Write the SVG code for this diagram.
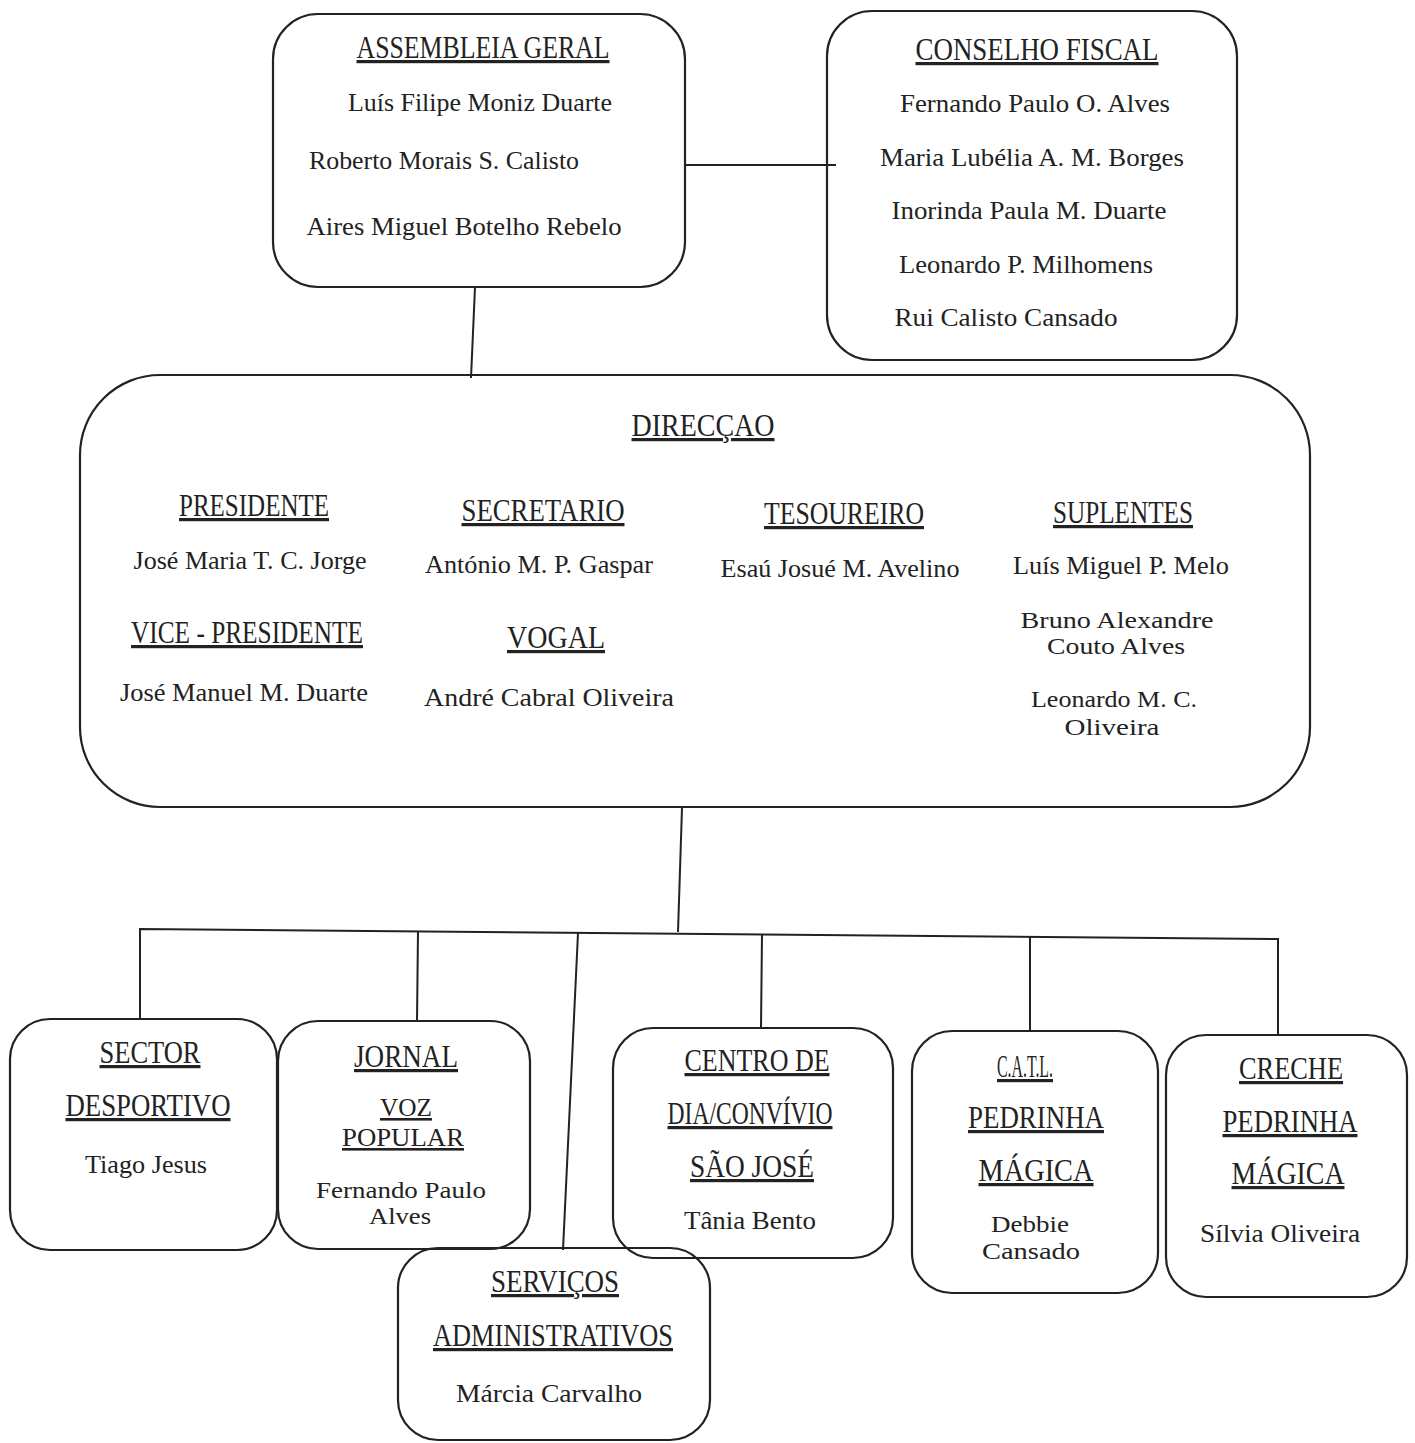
<svg xmlns="http://www.w3.org/2000/svg" width="1415" height="1443" viewBox="0 0 1415 1443">
<style>
.box{fill:none;stroke:#222;stroke-width:2.2}
.ln{fill:none;stroke:#222;stroke-width:2}
.h{font-family:"Liberation Serif","DejaVu Serif",serif;font-size:32px;fill:#222;text-anchor:middle;text-decoration:underline}
.h2{font-size:26px}
.n{font-family:"Liberation Serif","DejaVu Serif",serif;font-size:26px;fill:#222;text-anchor:middle}
.n2{font-size:24px}
</style>
<rect width="1415" height="1443" fill="#fff"/>
<g id="connectors">
<line class="ln" x1="685" y1="165" x2="836" y2="165"/>
<line class="ln" x1="475" y1="287" x2="471" y2="378"/>
<line class="ln" x1="682" y1="808" x2="678" y2="932"/>
<polyline class="ln" points="140,1020 140,929 1278,939 1278,1035"/>
<line class="ln" x1="418" y1="931" x2="417" y2="1022"/>
<line class="ln" x1="578" y1="933" x2="563" y2="1250"/>
<line class="ln" x1="762" y1="934" x2="761" y2="1028"/>
<line class="ln" x1="1030" y1="936" x2="1030" y2="1032"/>
</g>
<g id="assembleia">
<rect class="box" x="273" y="14" width="412" height="273" rx="45"/>
<text class="h" x="483" y="58" textLength="253" lengthAdjust="spacingAndGlyphs">ASSEMBLEIA GERAL</text>
<text class="n" x="480" y="111" textLength="264" lengthAdjust="spacingAndGlyphs">Luís Filipe Moniz Duarte</text>
<text class="n" x="444" y="169" textLength="270" lengthAdjust="spacingAndGlyphs">Roberto Morais S. Calisto</text>
<text class="n" x="464" y="235" textLength="315" lengthAdjust="spacingAndGlyphs">Aires Miguel Botelho Rebelo</text>
</g>
<g id="conselho">
<rect class="box" x="827" y="11" width="410" height="349" rx="45"/>
<text class="h" x="1037" y="60" textLength="243" lengthAdjust="spacingAndGlyphs">CONSELHO FISCAL</text>
<text class="n" x="1035" y="112" textLength="270" lengthAdjust="spacingAndGlyphs">Fernando Paulo O. Alves</text>
<text class="n" x="1032" y="166" textLength="304" lengthAdjust="spacingAndGlyphs">Maria Lubélia A. M. Borges</text>
<text class="n" x="1029" y="219" textLength="275" lengthAdjust="spacingAndGlyphs">Inorinda Paula M. Duarte</text>
<text class="n" x="1026" y="273" textLength="254" lengthAdjust="spacingAndGlyphs">Leonardo P. Milhomens</text>
<text class="n" x="1006" y="326" textLength="223" lengthAdjust="spacingAndGlyphs">Rui Calisto Cansado</text>
</g>
<g id="direccao">
<rect class="box" x="80" y="375" width="1230" height="432" rx="80"/>
<text class="h" x="703" y="436" textLength="143" lengthAdjust="spacingAndGlyphs">DIRECÇAO</text>
<text class="h" x="254" y="516" textLength="150" lengthAdjust="spacingAndGlyphs">PRESIDENTE</text>
<text class="n" x="250" y="569" textLength="233" lengthAdjust="spacingAndGlyphs">José Maria T. C. Jorge</text>
<text class="h" x="247" y="643" textLength="232" lengthAdjust="spacingAndGlyphs">VICE - PRESIDENTE</text>
<text class="n" x="244" y="701" textLength="248" lengthAdjust="spacingAndGlyphs">José Manuel M. Duarte</text>
<text class="h" x="543" y="521" textLength="163" lengthAdjust="spacingAndGlyphs">SECRETARIO</text>
<text class="n" x="539" y="573" textLength="228" lengthAdjust="spacingAndGlyphs">António M. P. Gaspar</text>
<text class="h" x="556" y="648" textLength="98" lengthAdjust="spacingAndGlyphs">VOGAL</text>
<text class="n" x="549" y="706" textLength="250" lengthAdjust="spacingAndGlyphs">André Cabral Oliveira</text>
<text class="h" x="844" y="524" textLength="160" lengthAdjust="spacingAndGlyphs">TESOUREIRO</text>
<text class="n" x="840" y="577" textLength="239" lengthAdjust="spacingAndGlyphs">Esaú Josué M. Avelino</text>
<text class="h" x="1123" y="523" textLength="140" lengthAdjust="spacingAndGlyphs">SUPLENTES</text>
<text class="n" x="1121" y="574" textLength="216" lengthAdjust="spacingAndGlyphs">Luís Miguel P. Melo</text>
<text class="n n2" x="1117" y="628" textLength="193" lengthAdjust="spacingAndGlyphs">Bruno Alexandre</text>
<text class="n n2" x="1116" y="654" textLength="138" lengthAdjust="spacingAndGlyphs">Couto Alves</text>
<text class="n n2" x="1114" y="707" textLength="166" lengthAdjust="spacingAndGlyphs">Leonardo M. C.</text>
<text class="n n2" x="1112" y="735" textLength="95" lengthAdjust="spacingAndGlyphs">Oliveira</text>
</g>
<g id="sector">
<rect class="box" x="10" y="1019" width="267" height="231" rx="40"/>
<text class="h" x="150" y="1063" textLength="101" lengthAdjust="spacingAndGlyphs">SECTOR</text>
<text class="h" x="148" y="1116" textLength="165" lengthAdjust="spacingAndGlyphs">DESPORTIVO</text>
<text class="n" x="146" y="1173" textLength="122" lengthAdjust="spacingAndGlyphs">Tiago Jesus</text>
</g>
<g id="jornal">
<rect class="box" x="278" y="1021" width="252" height="228" rx="40"/>
<text class="h" x="406" y="1067" textLength="104" lengthAdjust="spacingAndGlyphs">JORNAL</text>
<text class="h h2" x="406" y="1116" textLength="52" lengthAdjust="spacingAndGlyphs">VOZ</text>
<text class="h h2" x="403" y="1146" textLength="122" lengthAdjust="spacingAndGlyphs">POPULAR</text>
<text class="n n2" x="401" y="1198" textLength="170" lengthAdjust="spacingAndGlyphs">Fernando Paulo</text>
<text class="n n2" x="400" y="1224" textLength="62" lengthAdjust="spacingAndGlyphs">Alves</text>
</g>
<g id="servicos">
<rect class="box" x="398" y="1248" width="312" height="192" rx="40"/>
<text class="h" x="555" y="1292" textLength="128" lengthAdjust="spacingAndGlyphs">SERVIÇOS</text>
<text class="h" x="553" y="1346" textLength="240" lengthAdjust="spacingAndGlyphs">ADMINISTRATIVOS</text>
<text class="n" x="549" y="1402" textLength="186" lengthAdjust="spacingAndGlyphs">Márcia Carvalho</text>
</g>
<g id="centro">
<rect class="box" x="613" y="1028" width="280" height="230" rx="40"/>
<text class="h" x="757" y="1071" textLength="145" lengthAdjust="spacingAndGlyphs">CENTRO DE</text>
<text class="h" x="750" y="1124" textLength="165" lengthAdjust="spacingAndGlyphs">DIA/CONVÍVIO</text>
<text class="h" x="752" y="1177" textLength="124" lengthAdjust="spacingAndGlyphs">SÃO JOSÉ</text>
<text class="n" x="750" y="1229" textLength="132" lengthAdjust="spacingAndGlyphs">Tânia Bento</text>
</g>
<g id="catl">
<rect class="box" x="912" y="1031" width="246" height="262" rx="40"/>
<text class="h" x="1025" y="1077" textLength="56" lengthAdjust="spacingAndGlyphs">C.A.T.L.</text>
<text class="h" x="1036" y="1128" textLength="136" lengthAdjust="spacingAndGlyphs">PEDRINHA</text>
<text class="h" x="1036" y="1181" textLength="115" lengthAdjust="spacingAndGlyphs">MÁGICA</text>
<text class="n n2" x="1030" y="1232" textLength="78" lengthAdjust="spacingAndGlyphs">Debbie</text>
<text class="n n2" x="1031" y="1259" textLength="98" lengthAdjust="spacingAndGlyphs">Cansado</text>
</g>
<g id="creche">
<rect class="box" x="1166" y="1035" width="241" height="262" rx="40"/>
<text class="h" x="1291" y="1079" textLength="104" lengthAdjust="spacingAndGlyphs">CRECHE</text>
<text class="h" x="1290" y="1132" textLength="135" lengthAdjust="spacingAndGlyphs">PEDRINHA</text>
<text class="h" x="1288" y="1184" textLength="113" lengthAdjust="spacingAndGlyphs">MÁGICA</text>
<text class="n" x="1280" y="1242" textLength="160" lengthAdjust="spacingAndGlyphs">Sílvia Oliveira</text>
</g>
</svg>
